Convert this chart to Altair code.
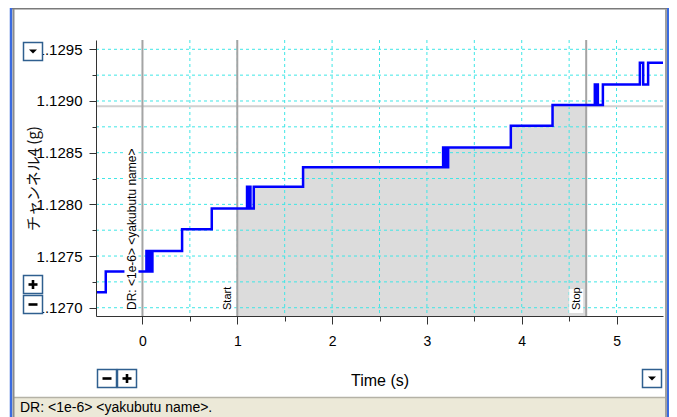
import altair as alt
import pandas as pd

# ---------------- data ----------------
T = [-0.49, -0.387,
     0.042, 0.050, 0.058, 0.066, 0.074, 0.082, 0.090, 0.098, 0.105,
     0.418, 0.731,
     1.103, 1.115, 1.125, 1.139, 1.174,
     1.694,
     3.171, 3.180, 3.189, 3.198, 3.207, 3.216, 3.224,
     3.885, 4.325,
     4.771, 4.782, 4.790, 4.803, 4.856,
     5.246, 5.281, 5.333, 5.49]
V = [1.12715, 1.12735,
     1.12755, 1.12735, 1.12755, 1.12735, 1.12755, 1.12735, 1.12755, 1.12735, 1.12755,
     1.12776, 1.12796,
     1.12817, 1.12796, 1.12817, 1.12796, 1.12817,
     1.12836,
     1.12855, 1.12836, 1.12855, 1.12836, 1.12855, 1.12836, 1.12855,
     1.12876, 1.12896,
     1.12916, 1.12896, 1.12916, 1.12896, 1.12916,
     1.12937, 1.12916, 1.12937, 1.12937]

X_DOMAIN = [-0.49, 5.49]
Y_DOMAIN = [1.12692, 1.12959]
X_MAJOR = [0, 1, 2, 3, 4, 5]
X_GRID = [0, 0.5, 1, 1.5, 2, 2.5, 3, 3.5, 4, 4.5, 5]
Y_MAJOR = [1.1270, 1.1275, 1.1280, 1.1285, 1.1290, 1.1295]
Y_GRID = [1.12700, 1.12725, 1.12750, 1.12775, 1.12800, 1.12825,
          1.12850, 1.12875, 1.12900, 1.12925, 1.12950]
MARKER_T = [0, 1, 4.68]
MARKER_LABEL = ["DR: <1e-6> <yakubutu name>", "Start", "Stop"]
REF_LEVEL = [1.12895]
X_TITLE = "Time (s)"
Y_TITLE = "チャンネル4 (g)"
STATUS_TEXT = "DR: <1e-6> <yakubutu name>."

# ---------------- derived tables ----------------
line_df = pd.DataFrame({"t": T, "v": V})

START, STOP = MARKER_T[1], MARKER_T[2]


def level_at(t):
    val = V[0]
    for ti, vi in zip(T, V):
        if ti <= t:
            val = vi
    return val


area_t = [START] + [t for t in T if START < t < STOP] + [STOP]
area_df = pd.DataFrame({"t": area_t, "v": [level_at(t) for t in area_t]})
marker_df = pd.DataFrame({"t": MARKER_T, "label": MARKER_LABEL})
xgrid_df = pd.DataFrame({"g": X_GRID})
ygrid_df = pd.DataFrame({"g": Y_GRID})
ref_df = pd.DataFrame({"v": REF_LEVEL})
one = pd.DataFrame({"k": [0]})

# ---------------- styles ----------------
FONT = "Liberation Sans"
AXC = "#333333"
CYAN = "#3FE6E6"
xs = alt.Scale(domain=X_DOMAIN, nice=False, zero=False)
ys = alt.Scale(domain=Y_DOMAIN, nice=False, zero=False)

x_minor_axis = alt.Axis(orient="bottom", values=X_GRID, tickSize=5, tickColor=AXC,
                        domainColor=AXC, labels=False, grid=False, zindex=1)
y_minor_axis = alt.Axis(orient="left", values=Y_GRID, tickSize=4, tickColor=AXC,
                        domainColor=AXC, labels=False, grid=False, zindex=1)
x_major_axis = alt.Axis(orient="bottom", values=X_MAJOR, tickSize=8, tickColor=AXC,
                        domain=False, grid=False, format="d", labelFont=FONT,
                        labelFontSize=14, labelColor="black", labelPadding=10,
                        titleFont=FONT, titleFontSize=16, titleFontWeight="normal",
                        titleColor="black", titleY=64, titleBaseline="middle", zindex=0)
y_major_axis = alt.Axis(orient="left", values=Y_MAJOR, tickSize=7, tickColor=AXC,
                        domain=False, grid=False, format=".4f", labelFont=FONT,
                        labelFontSize=15, labelColor="black", labelPadding=7,
                        titleFont="Noto Sans CJK JP", titleFontSize=15,
                        titleFontWeight="normal", titleColor="#111111", titleX=-63,
                        titleY=138, titleAngle=270, titleAlign="center",
                        titleBaseline="middle", zindex=0)

layers = []

# shaded area between Start and Stop (carries the minor-tick axes)
layers.append(alt.Chart(area_df).mark_area(interpolate="step-after", color="#DCDCDC").encode(
    x=alt.X("t:Q", scale=xs, axis=x_minor_axis, title=None),
    y=alt.Y("v:Q", scale=ys, axis=y_minor_axis, title=None),
    y2=alt.datum(Y_DOMAIN[0]),
))

# dashed cyan grid
layers.append(alt.Chart(xgrid_df).mark_rule(color=CYAN, strokeDash=[3, 3], strokeWidth=1).encode(
    x=alt.X("g:Q", scale=xs, axis=None)))
layers.append(alt.Chart(ygrid_df).mark_rule(color=CYAN, strokeDash=[3, 3], strokeWidth=1).encode(
    y=alt.Y("g:Q", scale=ys, axis=None)))

# horizontal reference line
layers.append(alt.Chart(ref_df).mark_rule(color="#D0D0D0", strokeWidth=2).encode(
    y=alt.Y("v:Q", scale=ys, axis=None)))

# marker lines
layers.append(alt.Chart(marker_df).mark_rule(color="#A4A4A4", strokeWidth=2).encode(
    x=alt.X("t:Q", scale=xs, axis=None)))

# data line (carries the labelled axes)
layers.append(alt.Chart(line_df).mark_line(interpolate="step-after", color="#0000FF",
                                           strokeWidth=2.5).encode(
    x=alt.X("t:Q", scale=xs, axis=x_major_axis, title=X_TITLE),
    y=alt.Y("v:Q", scale=ys, axis=y_major_axis, title=Y_TITLE),
))

# white label boxes + labels
dr_df = marker_df.iloc[:1]
ss_df = marker_df.iloc[1:]
layers.append(alt.Chart(dr_df).mark_rect(color="white", xOffset=-18, x2Offset=-4).encode(
    x=alt.X("t:Q", scale=xs, axis=None), x2="t:Q",
    y=alt.value(106), y2=alt.value(273)))
layers.append(alt.Chart(ss_df).mark_rect(color="white", xOffset=-17, x2Offset=-3).encode(
    x=alt.X("t:Q", scale=xs, axis=None), x2="t:Q",
    y=alt.value(249), y2=alt.value(273)))
layers.append(alt.Chart(dr_df).mark_text(angle=270, align="left", baseline="middle", dx=6,
                                         dy=-10, fontSize=12, font=FONT, color="black").encode(
    x=alt.X("t:Q", scale=xs, axis=None), y=alt.value(276), text="label:N"))
layers.append(alt.Chart(ss_df).mark_text(angle=270, align="left", baseline="middle", dx=6,
                                         dy=-9, fontSize=11, font=FONT, color="black").encode(
    x=alt.X("t:Q", scale=xs, axis=None), y=alt.value(276), text="label:N"))


# ---------------- window chrome (pixel positions relative to plot) ----------------
def prect(x1, x2, y1, y2, fill, stroke=None, sw=1.0):
    kw = {"color": fill}
    if stroke is not None:
        kw.update(stroke=stroke, strokeWidth=sw)
    return alt.Chart(one).mark_rect(**kw).encode(
        x=alt.value(x1), x2=alt.value(x2), y=alt.value(y1), y2=alt.value(y2))


def hrule(x1, x2, y, color, sw):
    return alt.Chart(one).mark_rule(color=color, strokeWidth=sw).encode(
        x=alt.value(x1), x2=alt.value(x2), y=alt.value(y))


def vrule(x, y1, y2, color, sw):
    return alt.Chart(one).mark_rule(color=color, strokeWidth=sw).encode(
        x=alt.value(x), y=alt.value(y1), y2=alt.value(y2))


BTN = "#2F5F8F"


def button(x1, y1, kind):
    x2, y2 = x1 + 20, y1 + 19
    cx, cy = (x1 + x2) / 2, (y1 + y2) / 2
    out = [prect(x1 + 0.5, x2 - 0.5, y1 + 0.5, y2 - 0.5, "white", BTN, 1.5)]
    if kind == "down":
        out.append(alt.Chart(one).mark_point(shape="M-1,-0.5L1,-0.5L0,0.5Z", filled=True,
                                             color="black", size=64, opacity=1,
                                             strokeWidth=0).encode(
            x=alt.value(cx), y=alt.value(cy)))
    else:
        out.append(hrule(cx - 4.5, cx + 4.5, cy, "black", 2.6))
        if kind == "plus":
            out.append(vrule(cx, cy - 4.5, cy + 4.5, "black", 2.6))
    return out


VIEW_BOTTOM = 377  # plot-relative bottom edge of the window
RIGHT = 573        # plot-relative right edge of the drawing

# status bar
layers.append(prect(-83, RIGHT, 358, VIEW_BOTTOM + 2, "#ECE9D8"))
layers.append(hrule(-83, RIGHT, 357.5, "#B5B2A6", 1.5))
layers.append(alt.Chart(one).mark_text(align="left", baseline="middle", fontSize=14,
                                       font=FONT, color="black").encode(
    x=alt.value(-76), y=alt.value(368), text=alt.value(STATUS_TEXT)))
# frame
layers.append(hrule(-86, RIGHT, -31.5, "#7A7A7A", 2))
layers.append(vrule(-85, -32, VIEW_BOTTOM + 2, "#3A6BE0", 2.5))
layers.append(vrule(-82.5, -31, VIEW_BOTTOM + 2, "#8C8C8C", 2))
layers.append(vrule(RIGHT - 3, -31, VIEW_BOTTOM + 2, "#A0A0A0", 2))
layers.append(vrule(RIGHT - 1, -32, VIEW_BOTTOM + 2, "#3A6BE0", 2))
# buttons
layers += button(-73, 2, "down")
layers += button(-73, 235, "plus")
layers += button(-73, 255, "minus")
layers += button(1, 329, "minus")
layers += button(21, 329, "plus")
layers += button(546, 329, "down")

chart = alt.layer(*layers).resolve_axis(x="independent", y="independent").properties(
    width=567, height=276,
    padding={"left": 88, "top": 32, "right": 6, "bottom": 101},
    autosize="none", background="white",
).configure_view(stroke=None)

chart.save("out.html", embed_options={"renderer": "svg", "actions": False})
